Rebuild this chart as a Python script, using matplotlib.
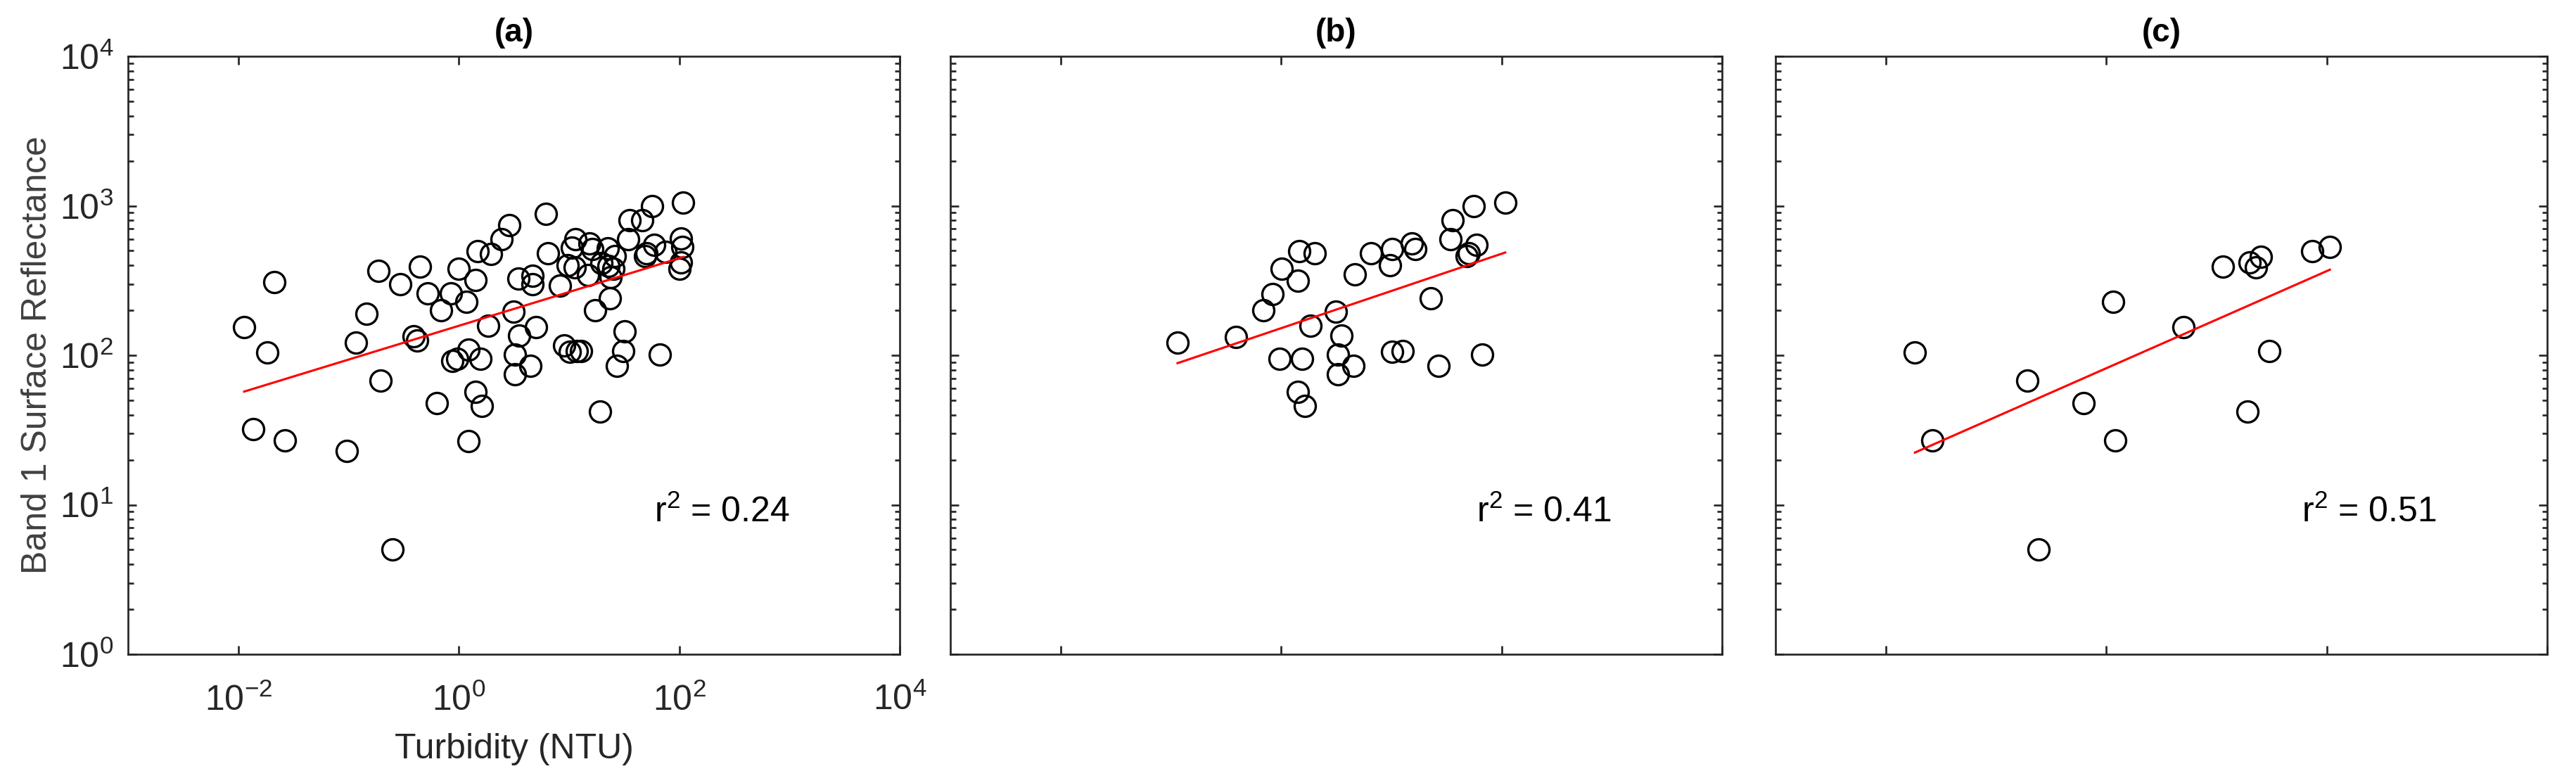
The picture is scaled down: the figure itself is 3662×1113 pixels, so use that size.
import numpy as np
import matplotlib
matplotlib.use("Agg")
import matplotlib.pyplot as plt
from matplotlib.ticker import FixedLocator, NullLocator, NullFormatter, LogFormatterSciNotation

plt.rcParams['font.family'] = ['Liberation Sans', 'DejaVu Sans']
plt.rcParams['mathtext.fontset'] = 'custom'
plt.rcParams['mathtext.rm'] = 'Liberation Sans'
plt.rcParams['mathtext.it'] = 'Liberation Sans'
plt.rcParams['mathtext.bf'] = 'Liberation Sans:bold'

# ---------------- data ----------------
panel_titles = ["(a)", "(b)", "(c)"]
r2_labels = ["0.24", "0.41", "0.51"]
x_ticks = [1e-2, 1e0, 1e2, 1e4]
y_ticks = [1e0, 1e1, 1e2, 1e3, 1e4]

turb_a = [0.0113, 0.0213, 0.0183, 0.0137, 0.0264, 0.097, 0.116, 0.146, 0.188, 0.194,
          0.249, 0.293, 0.388, 0.42, 0.443, 0.52, 0.63, 0.69, 0.85, 0.88,
          0.97, 1.0, 1.17, 1.22, 1.22, 1.43, 1.43, 1.49, 1.57, 1.63,
          1.84, 1.96, 2.45, 2.88, 3.12, 3.21, 3.21, 3.49, 3.52, 4.49,
          4.67, 4.67, 5.0, 6.14, 6.46, 8.32, 9.0, 9.68, 10.1, 10.7,
          11.3, 11.5, 11.7, 12.8, 14.8, 15.3, 16.2, 17.2, 19.2, 19.6,
          22.4, 22.9, 23.6, 24.0, 25.3, 26.1, 27.2, 31.0, 31.9, 34.6,
          35.7, 46.4, 48.8, 50.3, 56.8, 59.1, 66.7, 75.3, 101, 103,
          104, 107, 109]
refl_a = [154, 308, 104, 32, 27, 23, 121, 189, 369, 68,
          5.0, 299, 134, 126, 391, 259, 48, 200, 259, 92,
          95, 378, 228, 109, 26.7, 318, 57, 497, 95, 46,
          158, 477, 598, 745, 196, 101, 75, 327, 135, 85,
          342, 299, 154, 879, 481, 291, 117, 399, 106, 522,
          388, 598, 107, 107, 344, 561, 512, 200, 42, 414,
          519, 396, 241, 333, 381, 459, 85, 107, 144, 598,
          804, 804, 462, 481, 1000, 546, 101, 493, 378, 417,
          601, 528, 1052]

turb_b = [0.115, 0.39, 0.695, 0.84, 0.97, 1.01, 1.42, 1.42, 1.47, 1.56,
          1.64, 1.85, 2.01, 3.13, 3.26, 3.26, 3.53, 4.5, 4.65, 6.55,
          9.8, 10.1, 10.1, 12.6, 15.3, 16.6, 22.9, 26.9, 34.6, 36,
          48.3, 50.8, 59.2, 56.2, 66.8, 108]
refl_b = [121, 133, 200, 258, 95, 378, 316, 57, 497, 95,
          46, 158, 481, 196, 101, 75, 135, 85, 346, 481,
          399, 105, 512, 107, 561, 512, 241, 85, 598, 804,
          462, 481, 546, 1000, 101, 1052]

turb_c = [0.0184, 0.0263, 0.192, 0.245, 0.627, 1.16, 1.21, 5.06, 11.4, 19.1,
          20.1, 22.7, 25.4, 30.3, 74.1, 107]
refl_c = [104, 27, 68, 5.0, 48, 228, 27, 155, 393, 42,
          417, 388, 456, 107, 497, 528]

# log10-space regression fits: log10(refl) = slope*log10(turb) + intercept
fit_slopes = [0.226, 0.249, 0.325]
fit_intercepts = [2.197, 2.181, 1.913]

turb_sets = [turb_a, turb_b, turb_c]
refl_sets = [refl_a, refl_b, refl_c]

# ---------------- figure ----------------
W, H, DPI = 3662, 1113, 300
fig = plt.figure(figsize=(W / DPI, H / DPI), dpi=DPI)

axes_left_px = [182, 1351, 2524]
ax_w_px = 1097
ax_top_px, ax_bot_px = 80, 930

edge_col = '#262626'
FS = 12

for i in range(3):
    ax = fig.add_axes([axes_left_px[i] / W, (H - ax_bot_px) / H,
                       ax_w_px / W, (ax_bot_px - ax_top_px) / H])
    x = np.array(turb_sets[i], dtype=float)
    y = np.array(refl_sets[i], dtype=float)
    ax.plot(x, y, linestyle='none', marker='o', markersize=7.2,
            markerfacecolor='none', markeredgecolor='black', markeredgewidth=0.8)
    xl = np.array([x.min(), x.max()])
    yl = 10 ** (fit_slopes[i] * np.log10(xl) + fit_intercepts[i])
    ax.plot(xl, yl, color='red', linewidth=0.75)

    ax.set_xscale('log')
    ax.set_yscale('log')
    ax.set_xlim(1e-3, 1e4)
    ax.set_ylim(1e0, 1e4)
    ax.xaxis.set_major_locator(FixedLocator(x_ticks))
    ax.xaxis.set_minor_locator(NullLocator())
    ax.yaxis.set_major_locator(FixedLocator(y_ticks))
    minor_y = [m * 10.0 ** e for e in range(0, 4) for m in range(2, 10)]
    ax.yaxis.set_minor_locator(FixedLocator(minor_y))
    ax.yaxis.set_minor_formatter(NullFormatter())
    ax.xaxis.set_major_formatter(LogFormatterSciNotation())
    ax.yaxis.set_major_formatter(LogFormatterSciNotation())

    ax.tick_params(which='both', direction='in', top=True, right=True,
                   color=edge_col, labelcolor=edge_col, labelsize=FS, width=0.65)
    ax.tick_params(which='major', length=2.8)
    ax.tick_params(which='minor', length=1.8)
    ax.tick_params(axis='x', which='major', pad=10)
    ax.tick_params(axis='y', which='major', pad=5)
    for s in ax.spines.values():
        s.set_linewidth(0.65)
        s.set_color(edge_col)

    ax.set_title(panel_titles[i], fontsize=11, fontweight='bold', pad=5)
    ax.text(10 ** 1.77, 10 ** 0.95, r"r$^2$ = " + r2_labels[i], fontsize=FS,
            ha='left', va='center', color='black')

    if i == 0:
        ax.set_xlabel("Turbidity (NTU)", fontsize=FS, color=edge_col)
        ax.set_ylabel("Band 1 Surface Reflectance", fontsize=FS, color='#404040')
        ax.yaxis.set_label_coords(-0.097, 0.5)
        ax.xaxis.set_label_coords(0.5, -0.132)
    else:
        ax.tick_params(labelbottom=False, labelleft=False)

fig.savefig("out.png", dpi=DPI)
